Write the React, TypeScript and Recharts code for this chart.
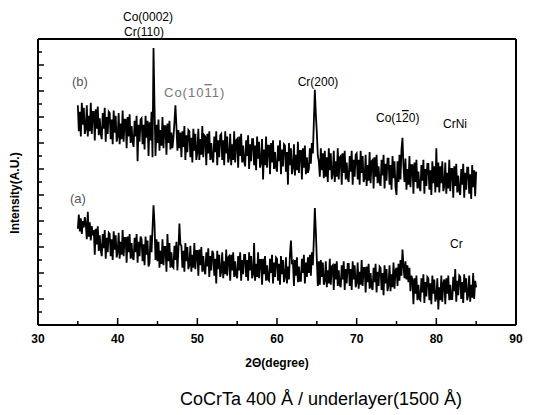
import React from 'react';
import { Line, LineChart, XAxis, YAxis } from 'recharts';

// scan grid: 35..85 deg, 0.125 deg step (one row per degree)
const startAngle = 35;
const angleStep = 0.125;

// (b) CoCrTa on CrNi underlayer
const crNiIntensity = [
    16.9, 14.9, 16.4, 14.5, 17.1, 15.4, 16.7, 14.7, // 35
    15.1, 16.9, 14.5, 16.1, 14.9, 17.1, 14.7, 16.4,
    16.4, 14.2, 16.6, 15.1, 16.8, 14.6, 15.9, 14.7,
    14.3, 16.3, 15.1, 16.7, 14.1, 16.0, 14.7, 16.4,
    16.3, 14.3, 15.8, 13.9, 16.5, 14.8, 16.1, 14.1,
    14.5, 16.3, 13.9, 15.5, 14.3, 16.5, 14.1, 15.8, // 40
    15.8, 13.6, 16.0, 14.5, 16.2, 14.0, 15.3, 14.1,
    13.7, 15.7, 14.5, 16.1, 12.6, 15.4, 14.1, 15.8,
    15.9, 13.9, 15.4, 13.5, 16.1, 14.4, 15.7, 13.0,
    15.6, 14.2, 16.4, 12.9, 21.3, 16.8, 13.0, 15.4,
    14.0, 15.8, 13.4, 15.0, 13.8, 16.0, 13.6, 15.3, // 45
    15.3, 13.1, 15.5, 14.0, 15.7, 13.5, 14.8, 13.6,
    14.4, 15.6, 16.9, 15.3, 13.4, 15.0, 13.6, 14.8,
    12.9, 14.9, 13.7, 15.3, 12.7, 14.6, 13.3, 15.0,
    14.9, 12.9, 14.4, 12.5, 15.1, 13.4, 14.7, 12.7,
    13.3, 15.1, 12.7, 14.3, 13.1, 15.3, 12.9, 14.6, // 50
    14.5, 12.3, 14.7, 13.2, 14.9, 12.7, 14.0, 12.8,
    12.5, 14.5, 13.3, 14.9, 12.3, 14.2, 12.9, 14.6,
    14.7, 12.7, 14.2, 12.3, 14.9, 13.2, 14.5, 12.5,
    12.9, 14.7, 12.3, 13.9, 12.7, 14.9, 12.5, 14.2,
    14.3, 12.1, 14.5, 13.0, 14.7, 12.5, 13.8, 12.6, // 55
    12.2, 14.2, 13.0, 14.6, 12.0, 13.9, 12.6, 14.3,
    14.3, 12.3, 13.8, 11.9, 14.5, 12.8, 14.1, 12.1,
    12.5, 14.3, 11.2, 13.5, 12.3, 14.5, 12.1, 13.8,
    13.8, 11.6, 14.0, 12.5, 14.2, 12.0, 13.3, 12.1,
    11.8, 13.8, 12.6, 14.2, 11.6, 13.5, 12.2, 13.9, // 60
    13.8, 11.8, 13.3, 10.8, 14.0, 12.3, 13.6, 11.6,
    12.1, 13.9, 11.5, 13.1, 11.9, 14.1, 11.7, 13.4,
    13.4, 11.2, 13.6, 12.1, 13.8, 11.6, 12.9, 11.7,
    12.0, 13.6, 12.4, 14.0, 13.2, 15.6, 18.1, 16.2,
    14.8, 13.0, 12.6, 11.4, 13.6, 11.9, 13.2, 11.3, // 65
    13.4, 11.4, 12.9, 11.0, 13.6, 11.9, 13.2, 11.2,
    11.6, 13.4, 11.0, 12.6, 11.4, 13.6, 11.2, 12.9,
    13.0, 10.8, 13.2, 11.7, 13.4, 11.2, 12.5, 11.3,
    11.0, 13.0, 11.8, 13.4, 10.8, 12.7, 11.4, 13.1,
    13.2, 11.2, 12.7, 10.8, 13.4, 11.7, 13.0, 11.0, // 70
    11.3, 13.1, 10.7, 12.3, 11.1, 13.3, 10.9, 12.6,
    12.7, 10.5, 12.9, 11.4, 13.1, 10.9, 12.2, 11.0,
    10.7, 12.7, 11.5, 13.1, 10.5, 12.4, 11.1, 12.8,
    12.8, 10.8, 12.3, 10.4, 13.0, 11.3, 12.6, 10.6,
    10.0, 12.6, 11.0, 13.1, 11.2, 13.5, 14.4, 12.2, // 75
    11.0, 12.8, 10.4, 12.0, 10.8, 13.0, 10.6, 12.3,
    12.3, 10.1, 12.5, 11.0, 12.7, 10.5, 11.8, 10.6,
    10.3, 12.3, 11.1, 12.7, 10.1, 12.0, 10.7, 12.4,
    12.4, 10.4, 11.9, 10.0, 12.6, 10.9, 12.2, 10.2,
    13.6, 10.6, 12.5, 10.2, 12.2, 10.9, 12.6, 10.3, // 80
    10.7, 12.5, 10.1, 11.7, 10.5, 12.7, 10.3, 12.0,
    12.0, 9.8, 12.2, 10.7, 12.4, 10.2, 11.5, 10.3,
    10.0, 12.0, 10.8, 12.4, 9.8, 11.7, 10.4, 12.1,
    12.1, 10.1, 11.6, 9.7, 12.3, 10.6, 11.9, 9.9,
    11.8, // 85
];

// (a) CoCrTa on Cr underlayer
const crIntensity = [
    7.4, 8.5, 7.2, 8.2, 7.0, 8.0, 7.5, 8.3, // 35
    7.8, 6.6, 8.7, 6.8, 7.9, 6.5, 7.6, 6.9,
    7.3, 5.4, 7.4, 6.2, 7.6, 5.7, 6.9, 5.8,
    5.3, 7.0, 5.9, 7.3, 5.1, 6.7, 5.6, 7.1,
    7.0, 5.3, 6.6, 5.0, 7.2, 5.8, 6.9, 5.2,
    5.6, 7.1, 5.1, 6.4, 5.4, 7.3, 5.3, 6.7, // 40
    6.7, 4.8, 6.8, 5.6, 7.0, 5.1, 6.3, 5.2,
    5.0, 6.7, 5.6, 7.0, 4.8, 6.4, 5.3, 6.8,
    6.6, 4.9, 6.2, 4.6, 6.8, 5.4, 6.5, 4.5,
    4.8, 6.9, 5.6, 7.4, 9.2, 7.8, 5.0, 6.6,
    4.9, 6.4, 4.4, 5.7, 4.7, 6.6, 4.6, 6.0, // 45
    6.0, 4.1, 7.0, 4.9, 6.3, 4.4, 5.6, 4.5,
    4.4, 6.1, 5.0, 6.4, 4.2, 5.8, 7.8, 6.2,
    6.1, 4.4, 5.7, 4.1, 6.3, 4.9, 6.0, 4.3,
    4.6, 6.1, 4.1, 5.4, 4.4, 6.3, 4.3, 5.7,
    5.7, 3.8, 5.8, 4.6, 6.0, 4.1, 5.3, 4.2, // 50
    3.9, 5.6, 4.5, 5.9, 3.7, 5.3, 4.2, 5.7,
    5.5, 3.8, 5.1, 3.2, 5.7, 4.3, 5.4, 3.7,
    4.1, 5.6, 3.6, 4.9, 3.9, 5.8, 3.8, 5.2,
    5.3, 3.4, 5.4, 4.2, 5.6, 3.7, 4.9, 3.8,
    3.6, 5.3, 4.2, 5.6, 3.4, 5.0, 3.9, 5.4, // 55
    5.4, 3.7, 5.0, 3.4, 5.6, 4.2, 5.3, 3.6,
    3.9, 6.3, 3.4, 4.7, 3.7, 5.6, 3.6, 5.0,
    5.0, 3.1, 5.1, 3.9, 5.3, 3.4, 4.6, 3.5,
    3.4, 5.1, 4.0, 5.4, 3.2, 4.8, 3.7, 5.2,
    5.1, 3.4, 4.7, 3.1, 5.3, 3.9, 5.0, 3.3, // 60
    3.7, 5.2, 3.2, 4.5, 3.5, 5.4, 6.5, 4.8,
    4.9, 3.0, 5.0, 3.8, 5.2, 3.3, 4.5, 3.4,
    3.4, 5.1, 4.0, 5.4, 3.2, 4.8, 3.7, 5.2,
    4.0, 5.4, 3.8, 5.6, 4.6, 6.6, 9.0, 7.2,
    5.0, 3.0, 4.9, 3.1, 5.0, 3.7, 4.8, 3.1, // 65
    3.4, 4.9, 2.9, 4.2, 3.2, 5.1, 3.1, 4.5,
    4.6, 2.7, 4.7, 3.5, 4.9, 3.0, 4.2, 3.1,
    2.9, 4.6, 3.5, 4.9, 2.7, 4.3, 3.2, 4.7,
    4.7, 3.0, 4.3, 2.7, 4.9, 3.5, 4.6, 2.9,
    3.3, 4.8, 2.8, 4.1, 3.1, 5.0, 3.0, 4.4, // 70
    4.4, 2.5, 4.5, 3.3, 4.7, 2.8, 4.0, 2.9,
    2.7, 4.4, 3.3, 4.7, 2.5, 4.1, 3.0, 4.5,
    4.4, 2.7, 4.0, 2.3, 4.6, 3.2, 4.3, 2.6,
    3.1, 4.6, 2.6, 3.9, 2.9, 4.8, 2.8, 4.2,
    4.4, 3.0, 4.7, 3.4, 5.0, 3.8, 5.8, 4.6, // 75
    3.6, 4.9, 3.5, 4.6, 3.3, 4.4, 2.6, 3.8,
    3.5, 1.6, 3.6, 2.4, 3.8, 1.9, 3.1, 2.0,
    1.9, 3.6, 2.5, 3.9, 1.7, 3.3, 2.2, 3.7,
    3.6, 1.9, 3.2, 1.6, 3.8, 2.4, 3.5, 1.8,
    2.1, 3.6, 1.2, 2.9, 1.9, 3.8, 1.8, 3.2, // 80
    3.5, 1.6, 3.6, 2.4, 3.8, 1.9, 3.1, 2.0,
    2.0, 3.7, 2.6, 4.3, 1.8, 3.4, 2.3, 3.8,
    3.7, 2.0, 3.3, 1.7, 3.9, 2.5, 3.6, 1.9,
    2.3, 3.8, 1.8, 3.1, 2.1, 4.0, 2.0, 3.4,
    2.9, // 85
];

const xTicks = [30, 35, 40, 45, 50, 55, 60, 65, 70, 75, 80, 85, 90];
const yTicks = [0, 1, 2, 3, 4, 5, 6, 7, 8, 9, 10, 11, 12, 13, 14, 15, 16, 17, 18, 19, 20, 21, 22];

const data = crNiIntensity.map((v, i) => ({
    angle: startAngle + i * angleStep,
    crNi: v,
    cr: crIntensity[i],
}));

const FONT = '"Liberation Sans", Arial, sans-serif';

const BottomTick = ({ x, y, payload }: any) => {
    const major = payload.value % 10 === 0;
    return (
        <g>
            <line x1={x} y1={y} x2={x} y2={y - (major ? 7 : 4)} stroke="#000" strokeWidth={1.5} />
            {major && (
                <text x={x} y={y + 18} textAnchor="middle" fontSize={12} fontWeight="bold" fontFamily={FONT} fill="#000">
                    {payload.value}
                </text>
            )}
        </g>
    );
};

const LeftTick = ({ x, y, payload }: any) => {
    const len = payload.value % 2 === 0 ? 6 : 4;
    return <line x1={x} y1={y} x2={x + len} y2={y} stroke="#000" strokeWidth={1.5} />;
};

const RightTick = ({ x, y, payload }: any) => {
    const len = payload.value % 2 === 0 ? 6 : 4;
    return <line x1={x} y1={y} x2={x - len} y2={y} stroke="#000" strokeWidth={1.5} />;
};

export default function App() {
    return (
        <div style={{ position: 'absolute', left: 0, top: 0, width: 535, height: 415, background: '#fff' }}>
            <LineChart
                width={535}
                height={415}
                data={data}
                margin={{ top: 29, right: 9, bottom: 60, left: 8 }}
            >
                <XAxis
                    dataKey="angle"
                    type="number"
                    domain={[30, 90]}
                    ticks={xTicks}
                    interval={0}
                    height={30}
                    tickSize={0}
                    tickMargin={0}
                    tick={<BottomTick />}
                    axisLine={{ stroke: '#000', strokeWidth: 2 }}
                />
                <XAxis
                    xAxisId="top"
                    orientation="top"
                    dataKey="angle"
                    type="number"
                    domain={[30, 90]}
                    height={10}
                    tick={false}
                    tickLine={false}
                    axisLine={{ stroke: '#000', strokeWidth: 2 }}
                />
                <YAxis
                    type="number"
                    domain={[0, 22]}
                    ticks={yTicks}
                    interval={0}
                    width={30}
                    tickSize={0}
                    tickMargin={0}
                    tick={<LeftTick />}
                    axisLine={{ stroke: '#000', strokeWidth: 2 }}
                />
                <YAxis
                    yAxisId="right"
                    orientation="right"
                    type="number"
                    domain={[0, 22]}
                    ticks={yTicks}
                    interval={0}
                    width={10}
                    tickSize={0}
                    tickMargin={0}
                    tick={<RightTick />}
                    axisLine={{ stroke: '#000', strokeWidth: 2 }}
                />
                <Line
                    dataKey="crNi"
                    type="linear"
                    stroke="#000"
                    strokeWidth={1.8}
                    dot={false}
                    isAnimationActive={false}
                />
                <Line
                    dataKey="cr"
                    type="linear"
                    stroke="#000"
                    strokeWidth={1.8}
                    dot={false}
                    isAnimationActive={false}
                />
            </LineChart>
            <svg
                width={535}
                height={415}
                style={{ position: 'absolute', left: 0, top: 0, pointerEvents: 'none' }}
                fontFamily={FONT}
            >
                <text x={148} y={21} textAnchor="middle" fontSize={12}>Co(0002)</text>
                <text x={144} y={36} textAnchor="middle" fontSize={12}>Cr(110)</text>
                <text x={72} y={86} fontSize={13} fill="#555">(b)</text>
                <text x={164} y={97} fontSize={13} fill="#777" letterSpacing={1}>
                    Co(10<tspan style={{ textDecoration: 'overline' }}>1</tspan>1)
                </text>
                <text x={318} y={86} textAnchor="middle" fontSize={12}>Cr(200)</text>
                <text x={376} y={122} fontSize={12}>
                    Co(1<tspan style={{ textDecoration: 'overline' }}>2</tspan>0)
                </text>
                <text x={443} y={128} fontSize={12}>CrNi</text>
                <text x={70} y={203} fontSize={13} fill="#555">(a)</text>
                <text x={450} y={248} fontSize={12}>Cr</text>
                <text x={277} y={367} textAnchor="middle" fontSize={12} fontWeight="bold">2Θ(degree)</text>
                <text
                    x={19}
                    y={193}
                    textAnchor="middle"
                    fontSize={12}
                    fontWeight="bold"
                    transform="rotate(-90 19 193)"
                >
                    Intensity(A.U.)
                </text>
                <text x={321} y={405} textAnchor="middle" fontSize={18}>CoCrTa 400 Å / underlayer(1500 Å)</text>
            </svg>
        </div>
    );
}
